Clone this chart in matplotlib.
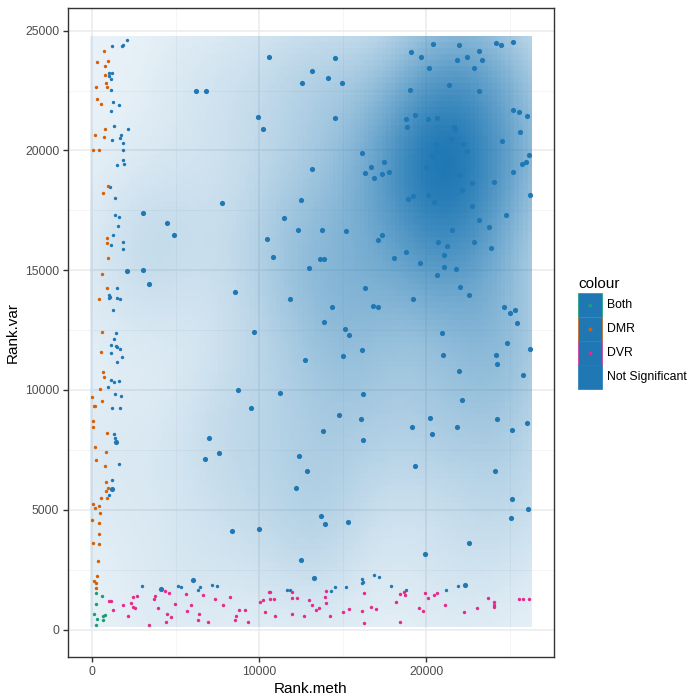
import numpy as np
import matplotlib
matplotlib.use("Agg")
import matplotlib.pyplot as plt
from matplotlib.patches import Rectangle

plt.rcParams['font.family'] = ['Liberation Sans', 'DejaVu Sans']

# ---------------- data ----------------
categories = ["Both", "DMR", "DVR", "Not Significant"]

both_x = [240, 600, 220, 140, 660, 780, 300, 640, 220]
both_y = [1540, 1420, 1080, 670, 580, 610, 460, 400, 210]

dmr_x = [700, 300, 980, 760, 760, 860, 260, 900, 300, 560,
         800, 160, 740, 80, 420, 960, 660, 900, 920, 980,
         620, 880, 440, 580, 520, 660, 740, 500, 20, 620,
         100, 180, 80, 80, 900, 160, 860, 220, 800, 860,
         980, 860, 560, 880, 80, 420, 200, 480, 20, 420,
         420, 60, 440, 380, 280, 140, 240, 220]
dmr_y = [24160, 23710, 23740, 23540, 23130, 22810, 22660, 22630, 22130, 21930,
         20890, 20630, 20560, 20000, 20000, 18510, 18220, 16330, 16140, 15510,
         14850, 14250, 13810, 12430, 11580, 10740, 10540, 10040, 9700, 9550,
         9350, 9350, 8710, 8450, 8220, 7610, 7400, 7080, 6830, 6180,
         5930, 5790, 5510, 5500, 5240, 5170, 5070, 4880, 4570, 4460,
         4000, 3630, 3570, 2880, 2240, 2030, 1960, 1720]

dvr_x = [2440, 2710, 1040, 1120, 1870, 2340, 2460, 2560, 1280, 2140,
         3400, 3760, 3710, 3940, 4390, 4610, 4990, 4470, 4730, 4450,
         5610, 5930, 5690, 6390, 6330, 6650, 6970, 7390, 8270, 7850,
         8790, 9150, 8630, 8580, 9360, 10060, 10220, 10600, 10680, 10680,
         10880, 10360, 10980, 11940, 11980, 12240, 11960, 12700, 12980, 13180,
         13400, 13560, 13940, 14020, 14020, 14270, 14990, 15350, 16270, 16130,
         16290, 16670, 16970, 18170, 18450, 18650, 18730, 18410, 19570, 19810,
         19900, 20110, 20490, 20670, 21100, 22280, 23020, 23680, 24060, 24080,
         24060, 25530, 25770, 26130]
dvr_y = [1360, 1420, 1180, 1210, 1030, 1100, 960, 880, 820, 580,
         210, 1390, 1290, 920, 1600, 1540, 1080, 670, 510, 320,
         1500, 1030, 780, 640, 380, 1460, 320, 1280, 1380, 1030,
         830, 830, 580, 420, 320, 1140, 1250, 1580, 1570, 1290,
         1290, 740, 550, 1580, 1300, 1300, 640, 570, 1240, 1010,
         800, 880, 1350, 1600, 1130, 570, 750, 850, 1530, 790,
         280, 960, 860, 1150, 1500, 1550, 1450, 330, 920, 760,
         1530, 1300, 1430, 1540, 1010, 740, 920, 1330, 1140, 1040,
         950, 1280, 1280, 1280]

# Not significant: points along the left column / bottom strip
ns_edge_x = [2100, 1220, 1780, 1860, 1000, 1180, 1000, 1120, 1120, 1280,
             1620, 1140, 1340, 2160, 1740, 1660, 1220, 1860, 1840, 1840,
             1900, 1480, 1080, 1400, 1360, 1620, 1540, 1240, 1140, 1860,
             1860, 1500, 1040, 1100, 1000, 1480, 1660, 1240, 1440, 1340,
             1160, 1440, 1500, 1680, 1140, 1820, 1480, 1140, 1340, 1620,
             980, 1360, 1760, 1220, 1700, 1340, 1380, 1620, 1220, 1040,
             3010, 5170, 5350, 6470, 6370, 7170, 7470, 11680, 11820, 14330,
             14570, 15210, 16130, 16150, 16210, 16870, 17190, 17890, 18770, 21190,
             21910]
ns_edge_y = [24590, 24350, 24350, 24410, 23250, 23250, 23100, 22970, 22510, 22010,
             21880, 21640, 21030, 20890, 20630, 20500, 20450, 20330, 20000, 19610,
             19450, 19380, 18470, 18000, 17310, 17240, 16860, 16450, 16070, 16160,
             15880, 14250, 13950, 13890, 13830, 13860, 13790, 13350, 12390, 12140,
             11890, 11850, 11790, 11720, 11540, 11380, 11170, 10400, 10350, 10360,
             10140, 9830, 9760, 9240, 9250, 8170, 8000, 6930, 6260, 5610,
             1820, 1800, 1790, 1790, 1640, 1860, 1830, 1650, 1640, 1630,
             1760, 1760, 2110, 1950, 1990, 2290, 2180, 1830, 1670, 1640,
             1820]

# Not significant: points in the main body of the panel
ns_core_x = [6230, 6830, 3070, 4470, 4930, 2080, 3050, 3430, 1440, 1220,
             7030, 6770, 7620, 4130, 6050, 12500, 13280, 22300, 20350, 25120,
             19310, 24120, 25120, 26100, 25080, 22580, 19930, 13840, 16190, 12360,
             12840, 12180, 13700, 13940, 15290, 8390, 10000, 10620, 14570, 13180,
             14120, 12540, 14980, 9940, 10220, 14560, 16160, 16670, 16310, 16850,
             13160, 7790, 12480, 11460, 12320, 13780, 15170, 10460, 10820, 13660,
             13880, 12960, 8550, 11820, 14380, 16350, 16810, 13880, 15110, 15350,
             9720, 16130, 12720, 14990, 8730, 11260, 16210, 9510, 14810, 16070,
             20380, 21980, 24200, 24480, 25220, 19070, 19670, 23140, 21860, 22450,
             23360, 20140, 22880, 21370, 19050, 23140, 25180, 25540, 26040, 18790,
             19310, 20130, 20670, 18870, 21670, 21730, 25600, 21490, 24540, 20610,
             22220, 20650, 22460, 20350, 20440, 21280, 17450, 17350, 17750, 19960,
             21070, 21970, 26130, 25940, 25740, 25200, 24040, 22720, 26190, 18910,
             19190, 20090, 20440, 22150, 22740, 24760, 23140, 23780, 21560, 17370,
             17110, 20710, 21220, 22880, 23860, 18790, 18090, 21070, 19630, 21040,
             21790, 20670, 22040, 22540, 19230, 17130, 24660, 25020, 25300, 25420,
             20920, 24840, 26180, 20980, 24180, 24260, 21980, 25780, 22160, 20230,
             24220, 19170, 21820, 26010]
ns_core_y = [22490, 22490, 17380, 16990, 16490, 14950, 15000, 14420, 7820, 5850,
             8000, 7140, 7390, 1700, 2050, 2890, 2140, 1850, 8180, 8330,
             6820, 6610, 5430, 5030, 4670, 3610, 3170, 8300, 7930, 7260,
             6600, 5890, 4750, 4400, 4510, 4110, 4210, 23920, 23850, 23320,
             23030, 22810, 22810, 21390, 20910, 21350, 19890, 19320, 19040, 18850,
             19210, 17810, 17950, 17180, 16690, 16680, 16630, 16290, 15540, 15470,
             15470, 15080, 14070, 13780, 13450, 14260, 13510, 12830, 12560, 12280,
             12420, 11680, 11240, 11430, 10000, 9860, 9830, 9250, 8950, 8780,
             24460, 24380, 24490, 24410, 24540, 24110, 23880, 24160, 23790, 23880,
             23780, 23430, 23430, 22750, 22540, 22490, 21670, 21610, 21420, 21310,
             21460, 21320, 21360, 20970, 20970, 20890, 20780, 20460, 20390, 20280,
             20280, 19970, 19970, 19820, 19680, 19570, 19500, 19010, 19080, 19290,
             19110, 18970, 19790, 19530, 19420, 19080, 18680, 18640, 18160, 17990,
             18100, 18140, 17860, 18330, 17670, 17320, 17100, 16820, 16670, 16490,
             16250, 16180, 16000, 16160, 15930, 15780, 15530, 15630, 15310, 15130,
             15040, 14780, 14280, 13970, 13790, 13450, 13460, 13210, 13320, 12790,
             12380, 11960, 11710, 11450, 11460, 11100, 10790, 10640, 9580, 8820,
             8790, 8470, 8470, 8610]

x_ticks = [0, 10000, 20000]
y_ticks = [0, 5000, 10000, 15000, 20000, 25000]

# ---------------- style ----------------
colors = {"Both": "#1B9E77", "DMR": "#D95F02", "DVR": "#E7298A",
          "Not Significant": "#1F78B4"}
fill_rgb = np.array([0x1F, 0x78, 0xB4]) / 255.0
small_s = 6
big_s = 14
n_grid = 100
bw_scale = 1.05

# ---------------- compute ----------------
all_x = np.concatenate([both_x, dmr_x, dvr_x, ns_edge_x, ns_core_x]).astype(float)
all_y = np.concatenate([both_y, dmr_y, dvr_y, ns_edge_y, ns_core_y]).astype(float)
xmin, xmax = all_x.min(), all_x.max()
ymin, ymax = all_y.min(), all_y.max()
gx = np.linspace(xmin, xmax, n_grid)
gy = np.linspace(ymin, ymax, n_grid)
hcx = (gx[1] - gx[0]) / 2
hcy = (gy[1] - gy[0]) / 2


def nrd_sd(v):
    v = np.asarray(v, float)
    q75, q25 = np.percentile(v, [75, 25])
    return 1.06 * min(v.std(ddof=1), (q75 - q25) / 1.34) * len(v) ** (-0.2)


# density of the main-body non-significant points
kx = np.asarray(ns_core_x, float)
ky = np.asarray(ns_core_y, float)
hx = nrd_sd(kx) * bw_scale
hy = nrd_sd(ky) * bw_scale
wx = np.exp(-0.5 * ((gx[:, None] - kx[None, :]) / hx) ** 2)
wy = np.exp(-0.5 * ((gy[:, None] - ky[None, :]) / hy) ** 2)
dens = wy @ wx.T  # shape (ny, nx)
alpha = 0.1 + 0.9 * dens / dens.max()
img = np.zeros((n_grid, n_grid, 4))
img[..., :3] = fill_rgb
img[..., 3] = alpha

# ---------------- figure ----------------
fig = plt.figure(figsize=(7, 7), dpi=100)
ax = fig.add_axes([68 / 700, 43 / 700, (554 - 68) / 700, (657 - 8) / 700])

rx = (xmax + hcx) - (xmin - hcx)
ry = (ymax + hcy) - (ymin - hcy)
ax.set_xlim(xmin - hcx - 0.05 * rx, xmax + hcx + 0.05 * rx)
ax.set_ylim(ymin - hcy - 0.05 * ry, ymax + hcy + 0.05 * ry)

ax.imshow(img, origin='lower', extent=[xmin - hcx, xmax + hcx, ymin - hcy, ymax + hcy],
          aspect='auto', interpolation='nearest', zorder=1)

ax.scatter(ns_core_x, ns_core_y, s=big_s, color=colors["Not Significant"], linewidths=0, zorder=3)
ax.scatter(ns_edge_x, ns_edge_y, s=small_s, color=colors["Not Significant"], linewidths=0, zorder=3)
ax.scatter(both_x, both_y, s=small_s, color=colors["Both"], linewidths=0, zorder=3)
ax.scatter(dmr_x, dmr_y, s=small_s, color=colors["DMR"], linewidths=0, zorder=3)
ax.scatter(dvr_x, dvr_y, s=small_s, color=colors["DVR"], linewidths=0, zorder=3)

ax.set_xticks(x_ticks)
ax.set_xticklabels([str(t) for t in x_ticks])
ax.set_yticks(y_ticks)
ax.set_yticklabels([str(t) for t in y_ticks])
ax.set_xticks([5000, 15000, 25000], minor=True)
ax.set_yticks([2500, 7500, 12500, 17500, 22500], minor=True)
ax.tick_params(axis='both', which='major', length=3.8, width=1.0, color='#333333',
               labelsize=8.8, labelcolor='#4D4D4D', pad=2.5)
ax.tick_params(axis='both', which='minor', length=0)
ax.set_axisbelow(True)
ax.grid(which='major', color='#EBEBEB', linewidth=1.1, zorder=0)
ax.grid(which='minor', color='#F2F2F2', linewidth=0.55, zorder=0)
for sp in ax.spines.values():
    sp.set_color('#333333')
    sp.set_linewidth(1.0)
    sp.set_zorder(5)

ax.set_xlabel("Rank.meth", fontsize=11, labelpad=3)
ax.set_ylabel("Rank.var", fontsize=11, labelpad=4)

# ---------------- legend ----------------
lax = fig.add_axes([0, 0, 1, 1])
lax.set_xlim(0, 700)
lax.set_ylim(700, 0)
lax.axis('off')
lax.patch.set_alpha(0)
lax.text(578, 288, "colour", fontsize=11, ha='left', va='baseline')
key_top = 293
key_h = 24
for i, cat in enumerate(categories):
    y0 = key_top + i * key_h
    edge = colors[cat] if cat != "Not Significant" else fill_rgb
    lax.add_patch(Rectangle((578, y0), 24, key_h, facecolor=fill_rgb,
                            edgecolor=edge, linewidth=0.5, alpha=1.0))
    lax.scatter([590], [y0 + key_h / 2], s=small_s * 1.3, color=colors[cat], linewidths=0, zorder=3)
    lax.text(607, y0 + key_h / 2, cat, fontsize=8.8, ha='left', va='center', color='black')

fig.savefig("out.png", dpi=100)
